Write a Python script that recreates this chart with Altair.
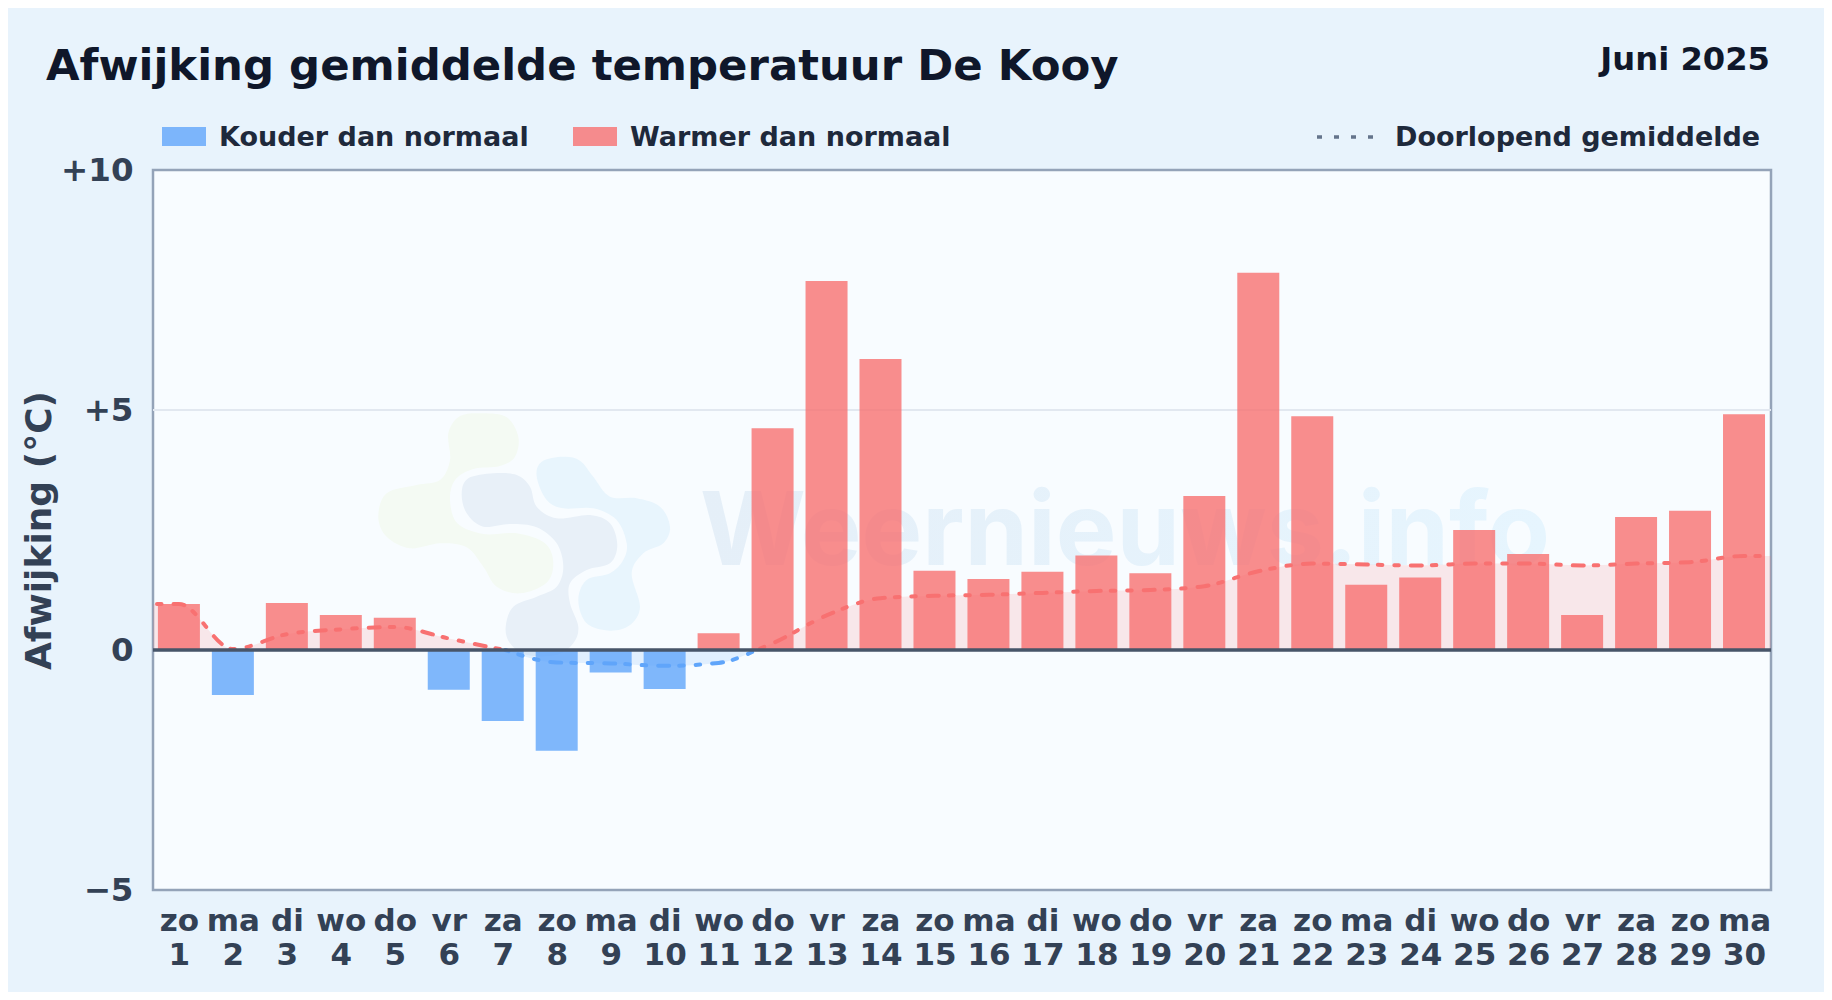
import altair as alt
import pandas as pd

WEEKDAYS = ["zo","ma","di","wo","do","vr","za","zo","ma","di","wo","do","vr","za","zo","ma","di","wo","do","vr","za","zo","ma","di","wo","do","vr","za","zo","ma"]
DAYS = list(range(1, 31))
ANOMALY = [0.96,-0.94,0.98,0.73,0.67,-0.83,-1.48,-2.10,-0.47,-0.81,0.35,4.62,7.69,6.06,1.65,1.48,1.63,1.97,1.60,3.21,7.86,4.87,1.36,1.51,2.50,2.00,0.73,2.77,2.90,4.91]
RUNNING = [0.96,0.02,0.33,0.43,0.48,0.24,0.01,-0.26,-0.28,-0.33,-0.27,0.14,0.72,1.08,1.13,1.15,1.19,1.23,1.25,1.33,1.64,1.80,1.78,1.76,1.80,1.80,1.76,1.80,1.83,1.96]
# the line runs on to the frame on both sides, holding its end values
EDGE_X = [0.52, 30.5]
CROSSINGS = [7.05, 11.7]

RED = "#f87171"
BLUE = "#60a5fa"
PAGE_BG = "#e8f3fc"
PLOT_BG = "#f8fcff"
DASH = [11, 10, 4.5, 12, 4.5, 12]

W, H = 1618, 720
sx = alt.Scale(domain=EDGE_X, nice=False, zero=False, padding=0)
sy = alt.Scale(domain=[-5, 10], nice=False, zero=False)
sc = alt.Scale(domain=["neg", "pos"], range=[BLUE, RED])

bars = pd.DataFrame({"day": DAYS, "v": ANOMALY})
bars["sign"] = ["pos" if v >= 0 else "neg" for v in ANOMALY]

pts = [(EDGE_X[0], RUNNING[0])] + list(zip(DAYS, RUNNING)) + [(EDGE_X[1], RUNNING[-1])]
a, b = CROSSINGS
line_rows = (
    [{"x": x, "y": y, "seg": "a", "sign": "pos"} for x, y in pts if x < a] + [{"x": a, "y": 0.0, "seg": "a", "sign": "pos"}]
    + [{"x": a, "y": 0.0, "seg": "b", "sign": "neg"}] + [{"x": x, "y": y, "seg": "b", "sign": "neg"} for x, y in pts if a < x < b] + [{"x": b, "y": 0.0, "seg": "b", "sign": "neg"}]
    + [{"x": b, "y": 0.0, "seg": "c", "sign": "pos"}] + [{"x": x, "y": y, "seg": "c", "sign": "pos"} for x, y in pts if x > b]
)
line_df = pd.DataFrame(line_rows)

labels_expr = "[split('" + "|".join(WEEKDAYS) + "','|')[datum.value-1], datum.label]"
X_AX = alt.Axis(
    values=DAYS, title=None, domain=False, ticks=False, grid=False,
    labelExpr=labels_expr, labelFont="DejaVu Sans", labelFontWeight="bold",
    labelFontSize=31, labelColor="#334155", labelLineHeight=34,
    labelPadding=16, labelOverlap=False, labelFlush=False, labelBound=False)
Y_AX = alt.Axis(
    values=[-5, 0, 5, 10], domain=False, ticks=False, grid=False,
    labelExpr="datum.value > 0 ? '+' + datum.label : (datum.value < 0 ? '\u2212' + abs(datum.value) : datum.label)",
    labelFont="DejaVu Sans", labelFontWeight="bold", labelFontSize=32.5, labelColor="#334155",
    labelPadding=20, labelOverlap=False, labelFlush=False, labelBound=False,
    title="Afwijking (\u00b0C)", titleFont="DejaVu Sans", titleFontWeight="bold", titleFontSize=36,
    titleColor="#334155", titleX=-114, titleY=360, titleAngle=270, titleBaseline="middle", titleAlign="center")

X = alt.X("x:Q", scale=sx, axis=X_AX)
Y = alt.Y("y:Q", scale=sy, axis=Y_AX)
COL = alt.Color("sign:N", scale=sc, legend=None)

grid = alt.Chart(pd.DataFrame({"g": [5]})).mark_rule(color="#e2e8f0", strokeWidth=2).encode(
    y=alt.Y("g:Q", scale=sy, axis=Y_AX))

area = alt.Chart(line_df).mark_area(interpolate="monotone", opacity=0.15).encode(
    x=X, y=alt.Y("y:Q", scale=sy, axis=Y_AX, stack=None), detail="seg:N", color=COL)

def dashed(segments, offset):
    return alt.Chart(line_df[line_df["seg"].isin(segments)]).mark_line(
        interpolate="monotone", strokeWidth=4, strokeCap="round", strokeDash=DASH, strokeDashOffset=offset
    ).encode(x=X, y=Y, detail="seg:N", color=COL)

line_pos = dashed(["a", "c"], 33.5)
line_neg = dashed(["b"], 7.5)

bar = alt.Chart(bars).mark_bar(size=42, opacity=0.8).encode(
    x=alt.X("day:Q", scale=sx, axis=X_AX),
    y=alt.Y("v:Q", scale=sy, axis=Y_AX),
    color=COL)

zero = alt.Chart(pd.DataFrame({"z": [0]})).mark_rule(color="#475569", strokeWidth=3.5).encode(
    y=alt.Y("z:Q", scale=sy, axis=Y_AX))

one = pd.DataFrame({"a": [1]})
def txt(s, x, y, size, color="#1e293b", align="left", weight="bold", font="DejaVu Sans"):
    return alt.Chart(one).mark_text(text=s, font=font, fontWeight=weight, fontSize=size, color=color,
                                    align=align, baseline="alphabetic").encode(
        x=alt.value(x), y=alt.value(y))
def swatch(x0, x1, y0, y1, color):
    return alt.Chart(one).mark_rect(color=color, opacity=0.8).encode(
        x=alt.value(x0), x2=alt.value(x1), y=alt.value(y0), y2=alt.value(y1))

OX, OY = 153, 170
title = txt("Afwijking gemiddelde temperatuur De Kooy", 46 - OX, 80 - OY, 43.4, "#0f172a")
month = txt("Juni 2025", 1770 - OX, 70 - OY, 32.2, "#0f172a", align="right")
leg1 = txt("Kouder dan normaal", 219 - OX, 146 - OY, 27)
leg2 = txt("Warmer dan normaal", 630 - OX, 146 - OY, 27)
leg3 = txt("Doorlopend gemiddelde", 1395 - OX, 146 - OY, 27)
sw1 = swatch(162 - OX, 206 - OX, 127 - OY, 146 - OY, BLUE)
sw2 = swatch(573 - OX, 617 - OX, 127 - OY, 146 - OY, RED)
sw3 = alt.Chart(one).mark_rule(color="#64748b", strokeWidth=3.5, strokeDash=[5, 12]).encode(
    x=alt.value(1317 - OX), x2=alt.value(1375 - OX), y=alt.value(137 - OY))

WM_FILL = alt.LinearGradient(gradient="linear", x1=0, x2=1, y1=0, y2=0,
                             stops=[alt.GradientStop(offset=0, color="#e5eff8"),
                                    alt.GradientStop(offset=1, color="#e6f5fe")])
watermark = txt("Weernieuws.info", 700 - OX, 565 - OY, 102, WM_FILL, font="Inter")

# logo outlines, in pixels within a crop starting at LOGO_ORIGIN (values in 3x crop units)
LOGO_ORIGIN = (360, 390)
LOGO_GREEN = [(265,130),(300,78),(370,70),(440,82),(475,140),(465,200),(420,228),(340,237),(285,270),(270,330),(292,400),(370,432),(470,430),(555,460),(580,520),(558,580),(480,610),(410,590),(370,530),(320,472),(240,460),(150,475),(80,440),(55,380),(80,310),(170,285),(240,270),(270,210)]
LOGO_MID = [(305,310),(325,265),(400,250),(470,255),(510,290),(530,350),(590,385),(690,375),(750,400),(772,465),(750,520),(680,540),(630,580),(630,640),(655,710),(640,760),(590,795),(500,795),(450,760),(437,710),(460,650),(530,620),(590,590),(610,530),(590,460),(530,412),(450,402),(370,410),(320,370)]
LOGO_LIGHT = [(530,260),(545,215),(610,200),(660,212),(700,260),(750,320),(830,325),(900,350),(930,410),(910,460),(850,490),(815,550),(840,650),(810,705),(750,722),(680,700),(655,630),(680,570),(750,550),(790,510),(800,460),(770,390),(700,355),(610,355),(560,330)]

def smooth(points):
    p = [(u / 3, v / 3) for u, v in points]
    n = len(p)
    d = f"M{p[0][0]:.1f},{p[0][1]:.1f}"
    for i in range(n):
        p0, p1, p2, p3 = p[i - 1], p[i], p[(i + 1) % n], p[(i + 2) % n]
        c1 = (p1[0] + (p2[0] - p0[0]) / 6, p1[1] + (p2[1] - p0[1]) / 6)
        c2 = (p2[0] - (p3[0] - p1[0]) / 6, p2[1] - (p3[1] - p1[1]) / 6)
        d += f"C{c1[0]:.1f},{c1[1]:.1f},{c2[0]:.1f},{c2[1]:.1f},{p2[0]:.1f},{p2[1]:.1f}"
    return d + "Z"

def blob(points, color):
    return alt.Chart(one).mark_point(shape=smooth(points), filled=True, size=4, color=color, opacity=1, strokeWidth=0).encode(
        x=alt.value(LOGO_ORIGIN[0] - OX), y=alt.value(LOGO_ORIGIN[1] - OY))

chart = alt.layer(
    grid, blob(LOGO_GREEN, "#f4faf3"), blob(LOGO_MID, "#e8f0f8"), blob(LOGO_LIGHT, "#e8f5fd"),
    watermark, area, bar, line_pos, line_neg, zero,
    title, month, sw1, leg1, sw2, leg2, sw3, leg3,
).properties(
    width=W, height=H, background=PAGE_BG,
    padding={"left": 145, "top": 162, "right": 53, "bottom": 102},
    autosize=alt.AutoSizeParams(type="none"),
).configure_view(fill=PLOT_BG, stroke="#94a3b8", strokeWidth=2.5)

chart.save("out.html", embed_options={"renderer": "svg", "actions": False})
